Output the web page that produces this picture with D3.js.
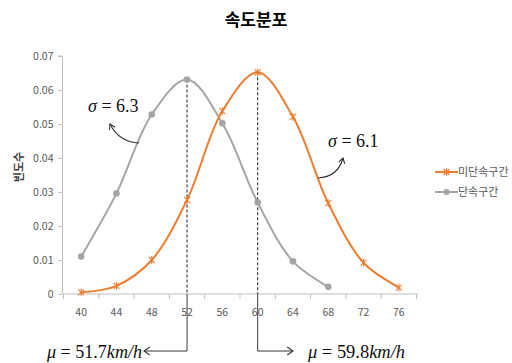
<!DOCTYPE html>
<html>
<head>
<meta charset="utf-8">
<script src="https://cdn.jsdelivr.net/npm/d3@7"></script>
<style>
  body { margin: 0; background: #fff; }
  svg { display: block; }
</style>
</head>
<body>
<svg id="chart" width="512" height="363"></svg>
<script>
// Speed classes (km/h) on the category axis
const categories = ["40", "44", "48", "52", "56", "60", "64", "68", "72", "76"];
// 단속구간 (enforced section), classes 40–68
const enforcedValues = [0.0110, 0.0296, 0.0528, 0.0631, 0.0502, 0.0269, 0.0096, 0.0021];
// 미단속구간 (non-enforced section), classes 40–76
const freeValues = [0.0005, 0.0024, 0.0100, 0.0277, 0.0538, 0.0652, 0.0521, 0.0267, 0.0092, 0.0019];
const yTicks = [0, 0.01, 0.02, 0.03, 0.04, 0.05, 0.06, 0.07];
const seriesNames = ["미단속구간", "단속구간"];
// Peak classes marked with a dashed guide and the fitted means / std. deviations
const peakCategories = ["52", "60"];
const meanValues = ["51.7", "59.8"];
const sigmaValues = ["6.3", "6.1"];

const svg = d3.select("#chart");
const ORANGE = "#ED7D31", GREY = "#A5A5A5", AXIS = "#BFBFBF", TEXT = "#595959";
const korean = "'Noto Sans CJK KR', 'Noto Sans', sans-serif";
const mathFont = "'Liberation Serif', 'DejaVu Serif', serif";

const x = d3.scaleBand().domain(categories).range([63.5, 416.5]);
const y = d3.scaleLinear().domain([0, 0.07]).range([294, 56]);
const cx = c => x(c) + x.bandwidth() / 2;

// Title
svg.append("text").attr("x", 256).attr("y", 26).attr("text-anchor", "middle")
  .style("font-family", korean).style("font-size", "17px").style("font-weight", "bold")
  .attr("fill", "#000").text("속도분포");

// Y axis title
svg.append("text").attr("transform", "translate(23,167) rotate(-90)").attr("text-anchor", "middle")
  .style("font-family", korean).style("font-size", "11px").style("font-weight", "bold")
  .attr("fill", "#404040").text("빈도수");

// Y axis
const yAxis = svg.append("g").attr("transform", "translate(62.5,0)")
  .call(d3.axisLeft(y).tickValues(yTicks).tickSize(4).tickPadding(5)
    .tickFormat(d => d === 0 ? "0" : d3.format(".2f")(d)));
yAxis.select(".domain").attr("stroke", AXIS).attr("d", `M-4,${y(0.07)}H0V${y(0)}`);
yAxis.selectAll(".tick line").attr("stroke", AXIS);
yAxis.selectAll(".tick text").attr("fill", TEXT).style("font-family", korean).style("font-size", "10.5px");

// X axis: labels at class centres, tick marks on class boundaries
const xAxis = svg.append("g").attr("transform", `translate(0,${y(0)})`)
  .call(d3.axisBottom(x).tickSize(0).tickPadding(15));
xAxis.select(".domain").attr("stroke", AXIS).attr("d", `M${x.range()[0] - 1},0H${x.range()[1] + 1.5}`);
xAxis.selectAll(".tick text").attr("fill", TEXT).style("font-family", korean).style("font-size", "10.5px");
const bounds = categories.map(c => x(c)).concat([x.range()[1]]);
xAxis.selectAll("line.bound").data(bounds).join("line").attr("class", "bound")
  .attr("x1", d => d).attr("x2", d => d).attr("y1", 0).attr("y2", 5).attr("stroke", AXIS);

// Dashed guides from each peak down to the axis, solid below to the mean arrows
const peaks = [
  { cat: peakCategories[0], value: enforcedValues[categories.indexOf(peakCategories[0])] },
  { cat: peakCategories[1], value: freeValues[categories.indexOf(peakCategories[1])] }
];
const arrowY = 351;
peaks.forEach(p => {
  svg.append("line").attr("x1", cx(p.cat)).attr("x2", cx(p.cat)).attr("y1", y(p.value)).attr("y2", y(0))
    .attr("stroke", "#333").attr("stroke-width", 1.1).attr("stroke-dasharray", "3,2");
  svg.append("line").attr("x1", cx(p.cat)).attr("x2", cx(p.cat)).attr("y1", y(0)).attr("y2", arrowY)
    .attr("stroke", "#404040").attr("stroke-width", 1);
});

const line = d3.line().x(d => cx(d.c)).y(d => y(d.v)).curve(d3.curveCatmullRom.alpha(0.5));
const enforced = enforcedValues.map((v, i) => ({ c: categories[i], v }));
const free = freeValues.map((v, i) => ({ c: categories[i], v }));

// Series lines
svg.append("path").datum(enforced).attr("d", line).attr("fill", "none").attr("stroke", GREY).attr("stroke-width", 2);
svg.append("path").datum(free).attr("d", line).attr("fill", "none").attr("stroke", ORANGE).attr("stroke-width", 2);

// Markers
function star(g, px, py, s) {
  g.append("path").attr("d",
    `M${px - s},${py - s}L${px + s},${py + s}M${px - s},${py + s}L${px + s},${py - s}M${px},${py - s * 1.3}L${px},${py + s * 1.3}`)
    .attr("stroke", ORANGE).attr("stroke-width", 1.1).attr("fill", "none");
}
svg.selectAll("circle.pt").data(enforced).join("circle").attr("class", "pt")
  .attr("cx", d => cx(d.c)).attr("cy", d => y(d.v)).attr("r", 3.3).attr("fill", GREY);
const starG = svg.append("g");
free.forEach(d => star(starG, cx(d.c), y(d.v), 3));

// Legend
const legend = svg.append("g");
[{ name: seriesNames[0], color: ORANGE, yy: 172 }, { name: seriesNames[1], color: GREY, yy: 192 }].forEach((s, i) => {
  legend.append("line").attr("x1", 435).attr("x2", 458).attr("y1", s.yy).attr("y2", s.yy)
    .attr("stroke", s.color).attr("stroke-width", 2);
  if (i === 0) star(legend, 446.5, s.yy, 3);
  else legend.append("circle").attr("cx", 446.5).attr("cy", s.yy).attr("r", 3).attr("fill", GREY);
  legend.append("text").attr("x", 458).attr("y", s.yy + 4).style("font-family", korean).style("font-size", "11px")
    .attr("fill", TEXT).text(s.name);
});

// Open arrowhead at (px,py) pointing along angle a
function head(px, py, a, len = 6, spread = 0.55) {
  const p1 = [px - len * Math.cos(a - spread), py - len * Math.sin(a - spread)];
  const p2 = [px - len * Math.cos(a + spread), py - len * Math.sin(a + spread)];
  svg.append("path").attr("d", `M${p1}L${px},${py}L${p2}`).attr("fill", "none")
    .attr("stroke", "#333").attr("stroke-width", 1.1);
}

// Math labels
function mathLabel(tx, ty, parts, width) {
  const t = svg.append("text").attr("x", tx).attr("y", ty)
    .style("font-family", mathFont).style("font-size", "18px").attr("fill", "#111");
  if (width) t.attr("textLength", width).attr("lengthAdjust", "spacingAndGlyphs");
  parts.forEach(p => t.append("tspan").style("font-style", p[1] ? "italic" : "normal").text(p[0]));
}

// Standard deviation labels with curved arrows
mathLabel(88, 112, [["σ", true], [" = " + sigmaValues[0], false]]);
svg.append("path").attr("d", "M139,143 Q119,142 110,124").attr("fill", "none").attr("stroke", "#333").attr("stroke-width", 1.1);
head(110, 124, Math.atan2(124 - 142, 110 - 119));
mathLabel(328, 147, [["σ", true], [" = " + sigmaValues[1], false]]);
svg.append("path").attr("d", "M318,178 Q338,177 343,158").attr("fill", "none").attr("stroke", "#333").attr("stroke-width", 1.1);
head(343, 158, Math.atan2(158 - 177, 343 - 338));

// Mean labels with elbow arrows
const m0 = cx(peakCategories[0]), m1 = cx(peakCategories[1]);
svg.append("line").attr("x1", m0).attr("x2", 144).attr("y1", arrowY).attr("y2", arrowY).attr("stroke", "#333").attr("stroke-width", 1);
head(144, arrowY, Math.PI, 7, 0.6);
mathLabel(47, 358, [["μ", true], [" = " + meanValues[0], false], ["km/h", true]], 95);
svg.append("line").attr("x1", m1).attr("x2", 293).attr("y1", arrowY).attr("y2", arrowY).attr("stroke", "#333").attr("stroke-width", 1);
head(293, arrowY, 0, 7, 0.6);
mathLabel(308, 358, [["μ", true], [" = " + meanValues[1], false], ["km/h", true]], 97);
</script>
</body>
</html>
